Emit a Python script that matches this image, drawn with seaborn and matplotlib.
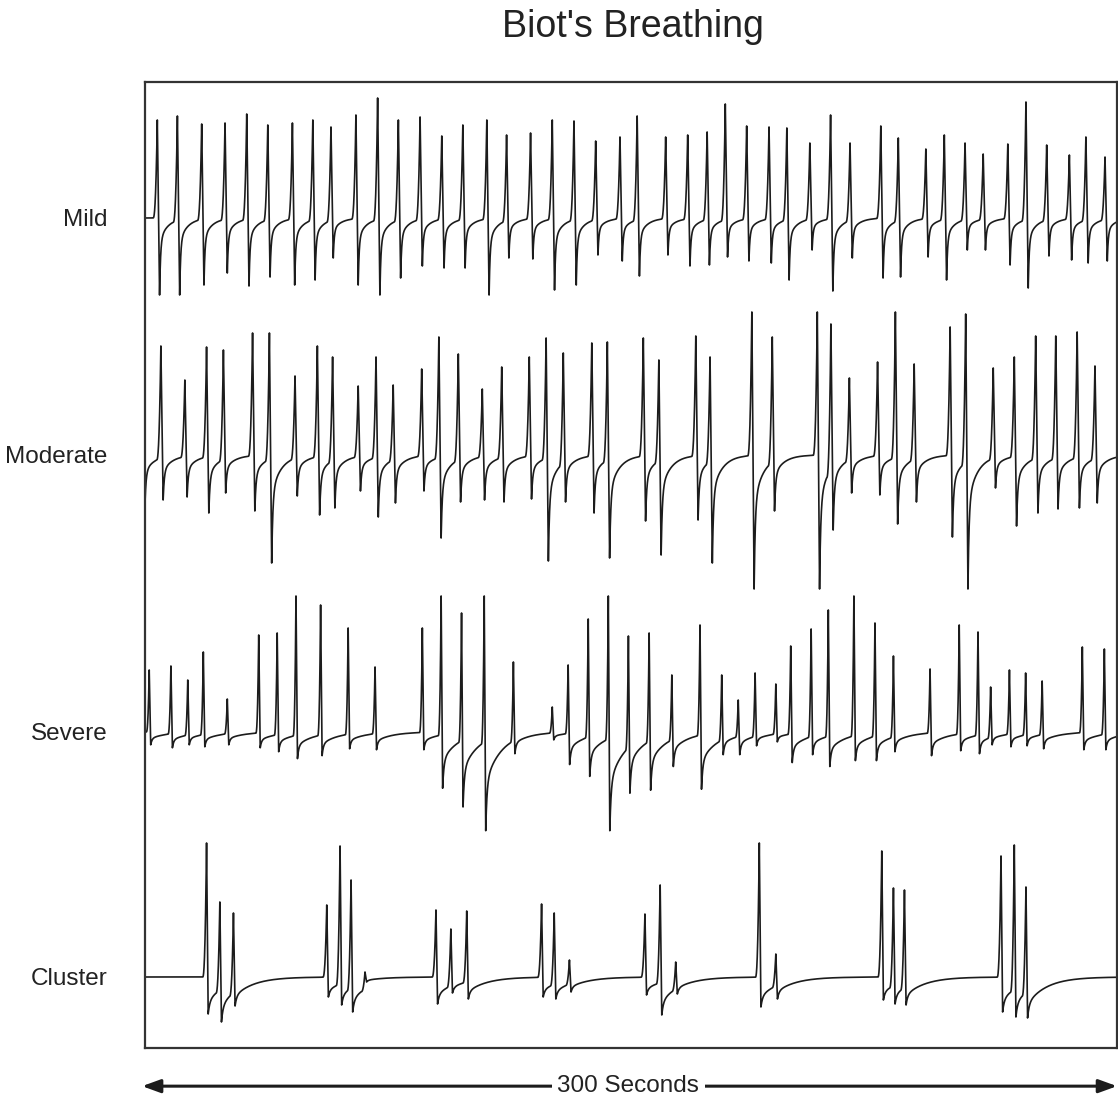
import numpy as np
import pandas as pd
import matplotlib
matplotlib.use("Agg")
import matplotlib.pyplot as plt
import seaborn as sns

# Datos: tiempo de cada respiracion (s), altura del pico y profundidad del valle
mild_t = [3.8, 10.0, 17.5, 24.7, 31.4, 37.9, 45.5, 51.8, 57.4, 65.1, 71.8, 78.2, 84.9, 91.6, 98.1,
          105.5, 111.6, 119.0, 125.7, 132.4, 139.1, 146.6, 151.9, 160.7, 167.5, 173.5, 179.1, 185.7,
          192.6, 198.1, 205.2, 211.6, 217.6, 227.1, 232.5, 241.0, 246.7, 253.1, 258.7, 266.3, 271.9,
          278.3, 285.3, 290.4, 296.3]
mild_h = [98, 102, 94, 95, 104, 93, 95, 98, 91, 103, 120, 98, 101, 82, 93,
          98, 83, 85, 98, 97, 77, 81, 102, 81, 83, 86, 114, 92,
          91, 90, 75, 103, 75, 92, 80, 69, 83, 75, 64, 74, 116,
          73, 63, 81, 61]
mild_d = [77, 77, 67, 55, 68, 59, 67, 62, 40, 67, 77, 60, 48, 50, 50,
          77, 40, 41, 72, 67, 37, 43, 58, 37, 48, 47, 39, 43,
          45, 62, 32, 73, 40, 60, 59, 39, 62, 32, 32, 47, 70,
          38, 42, 45, 43]

moderate_t = [-0.7, 4.9, 12.3, 19.0, 24.2, 33.2, 38.4, 46.3, 53.2, 57.9, 65.8, 71.3, 76.6, 85.4, 90.7,
              96.7, 104.1, 110.1, 118.6, 123.8, 129.1, 137.9, 142.7, 153.8, 158.6, 170.0, 174.4,
              187.3, 193.6, 207.5, 211.7, 217.4, 226.1, 231.6, 237.4, 248.5, 253.3, 261.8, 268.3,
              274.9, 281.1, 287.7, 293.2]
moderate_h = [100, 109, 75, 108, 105, 122, 122, 79, 109, 98, 69, 98, 70, 86, 118,
              101, 66, 88, 98, 117, 102, 112, 113, 117, 95, 119, 98,
              143, 118, 143, 131, 77, 93, 143, 91, 128, 141, 87, 98,
              119, 119, 123, 89]
moderate_d = [48, 45, 42, 58, 38, 56, 108, 41, 60, 53, 36, 62, 48, 36, 83,
              47, 45, 47, 44, 106, 47, 58, 103, 66, 100, 65, 108,
              134, 56, 134, 75, 38, 40, 69, 47, 82, 134, 33, 71,
              58, 54, 53, 48]

severe_t = [1.3, 8.0, 13.2, 18.0, 25.4, 35.1, 40.8, 46.6, 54.2, 62.7, 71.0, 85.6, 91.4, 97.7,
            104.7, 113.7, 125.7, 130.6, 136.8, 143.0, 149.2, 155.6, 162.6, 171.3, 178.0, 183.1,
            188.3, 194.7, 199.3, 205.6, 210.9, 218.8, 225.3, 231.0, 242.3, 251.3, 257.1, 261.0,
            266.8, 271.8, 276.9, 289.3, 296.1]
severe_h = [62, 66, 52, 80, 33, 97, 99, 136, 127, 104, 65, 104, 136, 119,
            136, 70, 25, 67, 113, 136, 96, 99, 57, 107, 57, 32,
            59, 48, 86, 103, 122, 136, 109, 76, 63, 107, 100, 45,
            62, 59, 51, 85, 83]
severe_d = [13, 16, 13, 15, 13, 16, 20, 27, 24, 17, 18, 18, 57, 76,
            100, 22, 8, 33, 45, 100, 62, 59, 35, 58, 23, 23,
            14, 10, 31, 23, 35, 29, 29, 20, 24, 19, 22, 13,
            15, 14, 17, 18, 18]

cluster_t = [19.0, 23.1, 27.3, 56.1, 60.2, 63.6, 67.9, 89.8, 94.4, 99.3, 122.4, 126.3, 131.0,
             154.3, 159.0, 163.8, 189.6, 194.7, 227.4, 231.0, 234.4, 264.2, 268.3, 271.9]
cluster_h = [134, 75, 64, 72, 131, 97, 5, 67, 48, 66, 73, 64, 17,
             63, 92, 15, 134, 23, 126, 89, 87, 121, 132, 90]
cluster_d = [37, 45, 29, 20, 28, 35, 5, 27, 16, 22, 20, 22, 15,
             18, 38, 17, 30, 22, 23, 27, 28, 35, 40, 41]

rows = ["Mild", "Moderate", "Severe", "Cluster"]

# forma de cada respiracion por fila: subida, bajada, recuperacion rapida/lenta
shape = {
    "Mild": dict(tr=1.3, tf=0.7, a=0.7, tau1=0.3, tau2=2.5),
    "Moderate": dict(tr=1.3, tf=0.7, a=0.65, tau1=0.35, tau2=3.0),
    "Severe": dict(tr=0.9, tf=0.45, a=0.5, tau1=0.4, tau2=5.0),
    "Cluster": dict(tr=1.2, tf=0.5, a=0.35, tau1=0.5, tau2=6.0),
}
baseline = {"Mild": -218, "Moderate": -455, "Severe": -732, "Cluster": -977}

t = np.arange(0, 300.01, 0.02)


def trace(ts, hs, ds, tr, tf, a, tau1, tau2):
    # cada respiracion arranca desde el nivel en que quedo la anterior
    y = np.zeros_like(t)
    for t0, h, d in zip(ts, hs, ds):
        i0 = np.searchsorted(t, t0 - tr)
        ys = y[i0] if 0 < i0 < len(t) else 0.0
        u = t - t0
        m = u >= -tr
        uu = u[m]
        new = np.empty_like(uu)
        rise = uu < 0
        new[rise] = ys + (h - ys) * ((uu[rise] + tr) / tr) ** 2.5
        fall = (uu >= 0) & (uu < tf)
        new[fall] = h - (h + d) * uu[fall] / tf
        rec = uu >= tf
        v = uu[rec] - tf
        new[rec] = -d * (a * np.exp(-v / tau1) + (1 - a) * np.exp(-v / tau2))
        y[m] = new
    return y


data = {"Mild": (mild_t, mild_h, mild_d), "Moderate": (moderate_t, moderate_h, moderate_d),
        "Severe": (severe_t, severe_h, severe_d), "Cluster": (cluster_t, cluster_h, cluster_d)}

frames = []
for r in rows:
    y = trace(*data[r], **shape[r])
    frames.append(pd.DataFrame({"time": t, "level": baseline[r] + y, "row": r}))
df = pd.concat(frames, ignore_index=True)

sns.set_style("white")
plt.rcParams["font.family"] = ["Liberation Sans", "DejaVu Sans"]

fig = plt.figure(figsize=(11.18, 11.04), dpi=100)
ax = fig.add_axes([145 / 1118, 1 - 1048 / 1104, 972 / 1118, 966 / 1104])

sns.lineplot(data=df, x="time", y="level", units="row", estimator=None, sort=False,
             color="#1c1c1c", linewidth=1.2, ax=ax)

ax.set_xlim(0, 300)
ax.set_ylim(-1048, -82)
ax.set_xticks([])
ax.set_yticks([baseline[r] for r in rows])
ax.set_yticklabels(rows, fontsize=17.5, color="#222222")
ax.tick_params(axis="y", length=0, pad=27)
ax.set_xlabel("")
ax.set_ylabel("")
for s in ax.spines.values():
    s.set_visible(True)
    s.set_color("#333333")
    s.set_linewidth(1.6)

fig.text(633 / 1118, 1 - 27 / 1104, "Biot's Breathing", ha="center", va="center",
         fontsize=27, color="#222222")

# flecha de 300 segundos
ax.annotate("", xy=(-0.003, -0.0395), xytext=(1.0, -0.0395), xycoords="axes fraction",
            textcoords="axes fraction",
            arrowprops=dict(arrowstyle="<|-|>,head_length=1.1,head_width=0.4",
                            color="#1c1c1c", lw=2.2, shrinkA=0, shrinkB=0))
ax.text(0.497, -0.0395, "300 Seconds", transform=ax.transAxes, ha="center", va="center",
        fontsize=17.5, color="#222222",
        bbox=dict(facecolor="white", edgecolor="none", pad=4))

fig.savefig("out.png", dpi=100)
